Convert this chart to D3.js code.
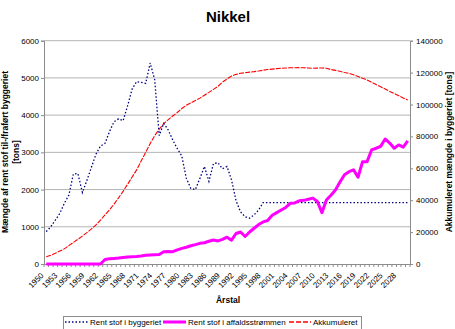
<!DOCTYPE html>
<html><head><meta charset="utf-8">
<script src="https://cdn.jsdelivr.net/npm/d3@7/dist/d3.min.js"></script>
<style>body{margin:0;background:#fff}svg{display:block;font-family:"Liberation Sans",Arial,sans-serif}</style>
</head><body><svg id="c" width="455" height="329"></svg>
<script>
const years = d3.range(1950, 2031);
const byggeriet = [870,1000,1180,1360,1630,1850,2420,2430,1920,2250,
 2600,2950,3170,3240,3560,3820,3900,3850,4250,4700,
 4900,4880,4850,5400,4950,3450,3780,3600,3330,3100,
 2900,2300,2030,2000,2300,2620,2220,2700,2720,2560,
 2620,2260,1700,1400,1270,1230,1320,1450,1650,1650,
 1650,1650,1650,1650,1650,1650,1650,1650,1650,1650,
 1650,1650,1650,1650,1650,1650,1650,1650,1650,1650,
 1650,1650,1650,1650,1650,1650,1650,1650,1650,1650,1650];
const affald = [0,0,0,0,0,0,0,0,0,0,
 0,0,0,120,140,150,160,175,190,195,
 200,215,235,245,250,255,330,335,330,380,
 420,450,490,520,555,570,610,645,620,660,
 720,640,820,860,740,860,960,1060,1130,1170,
 1310,1380,1450,1520,1630,1640,1700,1710,1740,1770,
 1680,1380,1720,1850,1990,2200,2400,2480,2530,2330,
 2750,2750,3065,3110,3160,3360,3250,3110,3200,3140,3310];
const akkumuleret = [4500,5500,6700,8100,9500,11500,13500,15500,17500,19700,
 22000,24500,27500,30800,34000,37500,41500,45500,50000,54500,
 59000,64500,70000,75500,80500,84500,88000,90500,92800,95000,
 97500,99500,101000,102500,104000,105800,107600,109500,111400,114000,
 116000,117800,118900,119600,119900,120300,120600,121000,121500,121900,
 122200,122500,122700,122900,123000,123000,123100,123000,122900,122700,
 122800,122900,122700,121900,121400,120800,120100,119500,118600,117600,
 116500,115300,114000,112500,111100,109700,108200,106900,105500,104100,102800];
const leftTicks = [0,1000,2000,3000,4000,5000,6000];
const rightTicks = [0,20000,40000,60000,80000,100000,120000,140000];
const xLabels = years.filter(y => (y - 1950) % 3 === 0);
const seriesNames = ["Rent stof i byggeriet","Rent stof i affaldsstrømmen","Akkumuleret"];

const svg = d3.select("#c");
const L = 44, R = 410, T = 40.7, B = 264;
const x = d3.scaleBand().domain(years).range([L, R]);
const cx = y => x(y) + x.bandwidth()/2;
const yL = d3.scaleLinear().domain([0,6000]).range([B,T]);
const yR = d3.scaleLinear().domain([0,140000]).range([B,T]);

// gridlines
svg.append("g").selectAll("line").data(leftTicks.slice(1)).join("line")
  .attr("x1",L).attr("x2",R).attr("y1",d=>yL(d)).attr("y2",d=>yL(d))
  .attr("stroke","#b4b4b4").attr("stroke-width",1);

// axes
const axL = svg.append("g").attr("transform",`translate(${L},0)`)
  .call(d3.axisLeft(yL).tickValues(leftTicks).tickSize(3).tickPadding(2).tickFormat(d3.format("d")));
const axR = svg.append("g").attr("transform",`translate(${R},0)`)
  .call(d3.axisRight(yR).tickValues(rightTicks).tickSize(3).tickPadding(3).tickFormat(d3.format("d")));
const axB = svg.append("g").attr("transform",`translate(0,${B})`)
  .call(d3.axisBottom(x).tickValues(xLabels).tickSize(0).tickPadding(4));
[axL,axR,axB].forEach(a=>{
  a.selectAll("path.domain").attr("stroke","#8c8c8c");
  a.selectAll(".tick line").attr("stroke","#8c8c8c");
  a.selectAll("text").attr("font-size","8px").attr("fill","#000").attr("font-family","Liberation Sans, Arial, sans-serif");
});
axB.selectAll("text").attr("text-anchor","end").attr("font-size","8px")
  .attr("x",0).attr("y",0).attr("dy",null)
  .attr("transform","translate(-2,12) rotate(-45)");
// category boundary ticks
svg.append("g").selectAll("line").data(d3.range(years.length+1)).join("line")
  .attr("x1",i=>L+i*x.step()).attr("x2",i=>L+i*x.step())
  .attr("y1",B).attr("y2",B+3).attr("stroke","#8c8c8c");

// lines
const lineL = d3.line().x((d,i)=>cx(years[i])).y(d=>yL(d));
const lineR = d3.line().x((d,i)=>cx(years[i])).y(d=>yR(d));
svg.append("path").attr("d",lineR(akkumuleret)).attr("fill","none")
  .attr("stroke","#ff0000").attr("stroke-width",1.1).attr("stroke-dasharray","5,1.2");
svg.append("path").attr("d",lineL(byggeriet)).attr("fill","none")
  .attr("stroke","#000080").attr("stroke-width",1.3).attr("stroke-dasharray","1.5,2");
svg.append("path").attr("d",lineL(affald)).attr("fill","none")
  .attr("stroke","#ff00ff").attr("stroke-width",3).attr("stroke-linejoin","round");

// titles
svg.append("text").attr("x",228).attr("y",22).attr("text-anchor","middle")
  .attr("font-size","15px").attr("font-weight","bold").text("Nikkel");
svg.append("text").attr("x",228).attr("y",303).attr("text-anchor","middle")
  .attr("font-size","8.5px").attr("font-weight","bold").text("Årstal");
svg.append("text").attr("transform","translate(8,152) rotate(-90)").attr("text-anchor","middle")
  .attr("font-size","8.5px").attr("font-weight","bold").text("Mængde af rent stof til-/fraført byggeriet");
svg.append("text").attr("transform","translate(18.5,152) rotate(-90)").attr("text-anchor","middle")
  .attr("font-size","8.5px").attr("font-weight","bold").text("[tons]");
svg.append("text").attr("transform","translate(452,152) rotate(-90)").attr("text-anchor","middle")
  .attr("font-size","8.5px").attr("font-weight","bold").text("Akkumuleret mængde i byggeriet [tons]");

// legend
const lg = svg.append("g");
lg.append("rect").attr("x",63.5).attr("y",316.5).attr("width",298).attr("height",15)
  .attr("fill","#fff").attr("stroke","#8c8c8c");
const items = [
  {x0:65,x1:89,tx:90,c:"#000080",w:1.3,da:"1.5,2"},
  {x0:163,x1:186,tx:188,c:"#ff00ff",w:3,da:null},
  {x0:289,x1:311,tx:313,c:"#ff0000",w:1.3,da:"5,2"}];
items.forEach((it,i)=>{
  lg.append("line").attr("x1",it.x0).attr("x2",it.x1).attr("y1",322).attr("y2",322)
    .attr("stroke",it.c).attr("stroke-width",it.w).attr("stroke-dasharray",it.da);
  lg.append("text").attr("x",it.tx).attr("y",325).attr("font-size","8px").text(seriesNames[i]);
});
</script></body></html>
